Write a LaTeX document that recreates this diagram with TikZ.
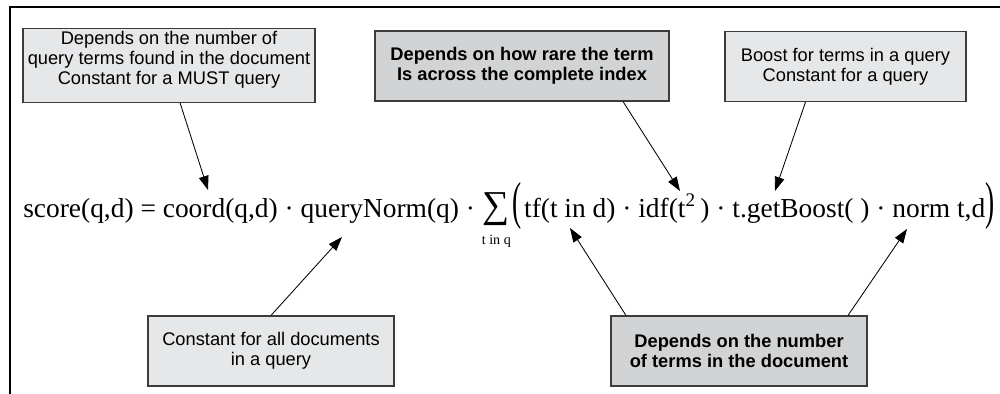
\documentclass[tikz,border=0pt]{standalone}
\usepackage{fontspec}
\setmainfont{Liberation Serif}
\newfontfamily\boxfont{Liberation Sans}
\usepackage{graphicx}
\usetikzlibrary{arrows.meta}
\definecolor{xlight}{RGB}{230,231,232}
\definecolor{xmid}{RGB}{209,211,212}
\definecolor{xedge}{RGB}{60,60,60}
\newcommand{\sumsign}{\begin{tabular}[t]{@{}c@{}}{\fontsize{27}{27}\selectfont ∑}\\[-4pt]{\fontsize{10}{10}\selectfont t in q}\end{tabular}}
\newcommand{\bigparen}[1]{\raisebox{-0.05em}{\scalebox{1}[1.9]{#1}}}

\begin{document}
\begin{tikzpicture}[x=0.025cm, y=-0.025cm,
  note/.style={draw=xedge, fill=xlight, line width=0.8pt, minimum height=1.75cm,
               font=\boxfont\fontsize{13}{14.2}\selectfont, align=center, inner sep=2pt},
  keynote/.style={note, fill=xmid, font=\boxfont\bfseries\fontsize{13}{14.2}\selectfont},
  arr/.style={-{Triangle[length=10pt,width=7pt]}, line width=0.6pt, black},
  formula/.style={font=\fontsize{19.5}{23.4}\selectfont, inner sep=0pt}
]
  \useasboundingbox (0,0) rectangle (1000,394);
  \draw[line width=1pt] (1000,7) -- (10,7) -- (10,394);

  \node[formula, anchor=base west] (score) at (23,217)
    {score(q,d) = coord(q,d) · queryNorm(q) · \sumsign\kern1pt\bigparen{(}\kern2pt tf(t in d) · idf(t\textsuperscript{2}\,) · t.getBoost( ) · norm t,d\bigparen{)}};

  \node[note, minimum width=7.3cm] (coordnote) at (169,65.5)
    {Depends on the number of\\query terms found in the document\\Constant for a MUST query\\[-4pt]\mbox{}};
  \node[keynote, minimum width=7.35cm] (idfnote) at (522,66)
    {Depends on how rare the term\\Is across the complete index};
  \node[note, minimum width=6.025cm] (boostnote) at (845.5,66.5)
    {Boost for terms in a query\\Constant for a query};
  \node[note, minimum width=6.15cm] (qnormnote) at (271,351)
    {Constant for all documents\\in a query};
  \node[keynote, minimum width=6.4cm] (tfnote) at (739,351)
    {Depends on the number\\of terms in the document};

  % arrow tips on the formula
  \coordinate (coordtip) at (208,190);
  \coordinate (qnormtip) at (342,237);
  \coordinate (idftip) at (680,191);
  \coordinate (boosttip) at (775,191);
  \coordinate (tftip) at (570,228);
  \coordinate (normtip) at (907,229);

  \draw[arr] ([xshift=0.275cm]coordnote.south) -- (coordtip);
  \draw[arr] (qnormnote.north) -- (qnormtip);
  \draw[arr] ([xshift=2.525cm]idfnote.south) -- (idftip);
  \draw[arr] ([xshift=-1.0cm]boostnote.south) -- (boosttip);
  \draw[arr] ([xshift=-2.825cm]tfnote.north) -- (tftip);
  \draw[arr] ([xshift=2.725cm]tfnote.north) -- (normtip);
\end{tikzpicture}
\end{document}
